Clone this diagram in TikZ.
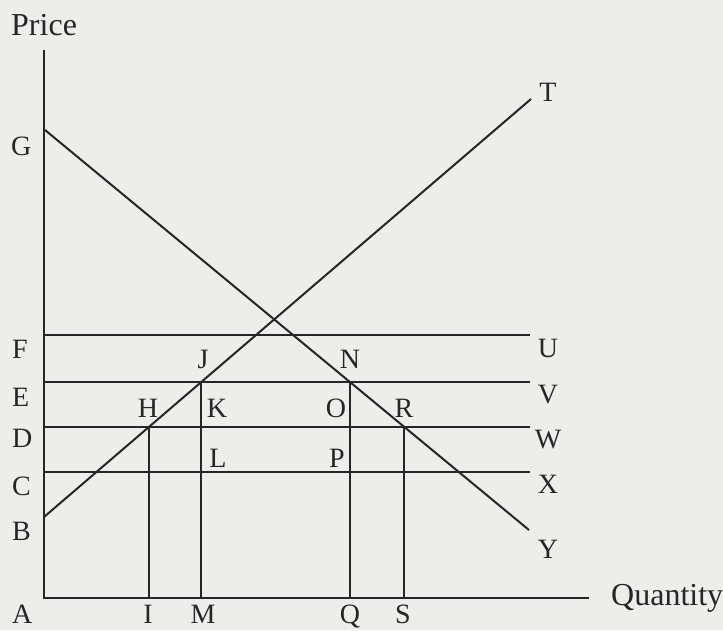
\documentclass[tikz,border=0pt]{standalone}
\usepackage{fontspec}
\setmainfont{Liberation Serif}
\usetikzlibrary{calc}
\definecolor{bgc}{HTML}{EDEDEA}
\definecolor{ink}{HTML}{262626}
\begin{document}
\begin{tikzpicture}[x=1pt,y=-1pt,
  ln/.style={line width=2pt, draw=ink},
  lab/.style={font=\fontsize{28}{30}\selectfont, inner sep=0pt, anchor=base, text=ink},
  lft/.style={font=\fontsize{28}{30}\selectfont, inner sep=0pt, anchor=base west, text=ink},
  word/.style={font=\fontsize{32}{34}\selectfont, inner sep=0pt, anchor=base west, text=ink}]
\fill[bgc] (0,0) rectangle (723,630);
\useasboundingbox (0,0) rectangle (723,630);
% axes and base points
\coordinate (O) at (44,598);
\coordinate (Ptop) at (44,50);
\coordinate (Qend) at (589,598);
\coordinate (Bp) at (44,517);
\coordinate (Tp) at (531,99);
\coordinate (Gp) at (45,130);
\coordinate (Yp) at (529,530);
\coordinate (Fp) at (44,335);
\coordinate (Up) at (530,335);
\coordinate (Ep) at (44,382);
\coordinate (Vp) at (530,382);
\coordinate (Dp) at (44,427);
\coordinate (Wp) at (530,427);
\coordinate (Cp) at (44,472);
\coordinate (Xp) at (530,472);
\coordinate (Hp) at (intersection of Bp--Tp and Dp--Wp);
\coordinate (Jp) at (intersection of Bp--Tp and Ep--Vp);
\coordinate (Np) at (intersection of Gp--Yp and Ep--Vp);
\coordinate (Rp) at (intersection of Gp--Yp and Dp--Wp);
\coordinate (Ip) at (Hp |- O);
\coordinate (Mp) at (Jp |- O);
\coordinate (Qp) at (Np |- O);
\coordinate (Sp) at (Rp |- O);
% lines
\draw[ln] (Ptop) -- (O) -- (Qend);
\draw[ln] (Bp) -- (Tp);
\draw[ln] (Gp) -- (Yp);
\draw[ln] (Fp) -- (Up);
\draw[ln] (Ep) -- (Vp);
\draw[ln] (Dp) -- (Wp);
\draw[ln] (Cp) -- (Xp);
\draw[ln] (Hp) -- (Ip);
\draw[ln] (Jp) -- (Mp);
\draw[ln] (Np) -- (Qp);
\draw[ln] (Rp) -- (Sp);
% labels
\node[word] (tPrice) at (11,35) {Price};
\node[word] (tQuantity) at (611,605) {Quantity};
\node[lft] (tG) at (11,155) {G};
\node[lft] (tF) at (12,358) {F};
\node[lft] (tE) at (12,406) {E};
\node[lft] (tD) at (12,447) {D};
\node[lft] (tC) at (12,495) {C};
\node[lft] (tB) at (12,540) {B};
\node[lft] (tA) at (12,623) {A};
\node[lab] (tH) at (148,417) {H};
\node[lab] (tK) at (217,417) {K};
\node[lab] (tJ) at (203,368) {J};
\node[lab] (tL) at (218,467) {L};
\node[lab] (tN) at (350,368) {N};
\node[lab] (tO) at (336,417) {O};
\node[lab] (tR) at (404,417) {R};
\node[lab] (tP) at (337,467) {P};
\node[lab] (tI) at (148,623) {I};
\node[lab] (tM) at (203,623) {M};
\node[lab] (tQ) at (350,623) {Q};
\node[lab] (tS) at (403,623) {S};
\node[lab] (tT) at (548,101) {T};
\node[lab] (tU) at (548,357) {U};
\node[lab] (tV) at (548,403) {V};
\node[lab] (tW) at (548,448) {W};
\node[lab] (tX) at (548,493) {X};
\node[lab] (tY) at (548,558) {Y};
\end{tikzpicture}
\end{document}
